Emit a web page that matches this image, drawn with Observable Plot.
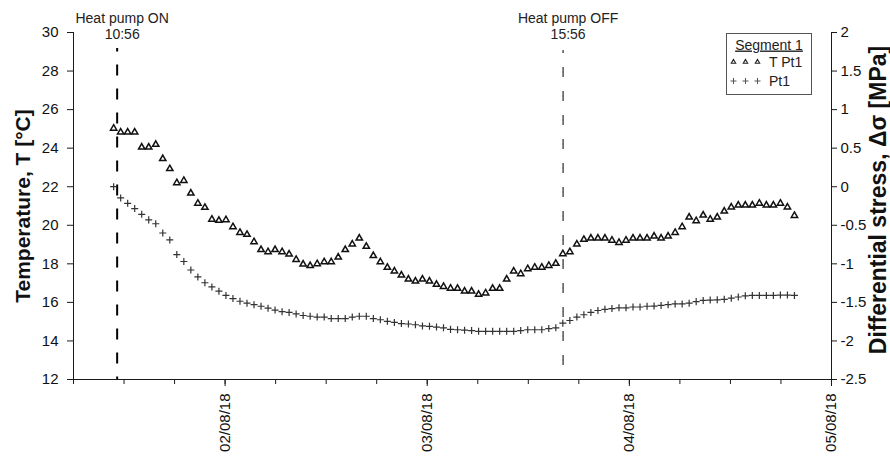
<!DOCTYPE html>
<html>
<head>
<meta charset="utf-8">
<script src="https://cdn.jsdelivr.net/npm/d3@7"></script>
<script src="https://cdn.jsdelivr.net/npm/@observablehq/plot@0.6"></script>
<style>
  body { margin: 0; background: #fff; font-family: "Liberation Sans", Arial, sans-serif; }
  #wrap { position: relative; width: 890px; height: 460px; }
  #legend { position: absolute; left: 726px; top: 33px; }
</style>
</head>
<body>
<div id="wrap"></div>
<script>
// ---- data ----
const sampleStart = "2018-08-01T10:46";
const sampleStepMinutes = 50;

// Temperature T Pt1 [°C] (triangles, left axis)
const tempPt1 = [
  25.03, 24.83, 24.83, 24.83, 24.05, 24.05, 24.19, 23.45, 22.93, 22.20,
  22.32, 21.66, 21.14, 20.92, 20.31, 20.25, 20.28, 19.92, 19.62, 19.52,
  19.14, 18.73, 18.62, 18.73, 18.62, 18.50, 18.22, 17.98, 17.90, 18.00,
  18.10, 18.10, 18.34, 18.73, 19.02, 19.33, 18.90, 18.42, 18.10, 17.81,
  17.62, 17.41, 17.20, 17.10, 17.20, 17.10, 16.93, 16.82, 16.73, 16.72,
  16.58, 16.58, 16.41, 16.48, 16.72, 16.72, 17.20, 17.62, 17.48, 17.74,
  17.82, 17.82, 17.91, 18.02, 18.52, 18.62, 19.02, 19.26, 19.33, 19.33,
  19.33, 19.22, 19.10, 19.22, 19.33, 19.33, 19.33, 19.43, 19.33, 19.43,
  19.62, 19.92, 20.42, 20.23, 20.52, 20.31, 20.42, 20.73, 20.94, 21.04,
  21.04, 21.04, 21.14, 21.04, 21.04, 21.14, 20.94, 20.50
];

// Differential stress Pt1 [MPa] (pluses, right axis)
const stressPt1 = [
  0.000, -0.145, -0.215, -0.283, -0.358, -0.430, -0.480, -0.600, -0.690, -0.880,
  -0.970, -1.080, -1.170, -1.245, -1.300, -1.355, -1.410, -1.450, -1.485, -1.510,
  -1.530, -1.550, -1.575, -1.600, -1.620, -1.630, -1.650, -1.670, -1.680, -1.690,
  -1.690, -1.710, -1.710, -1.710, -1.690, -1.680, -1.680, -1.710, -1.725, -1.745,
  -1.760, -1.775, -1.780, -1.790, -1.805, -1.810, -1.820, -1.830, -1.850, -1.855,
  -1.860, -1.865, -1.875, -1.875, -1.875, -1.875, -1.875, -1.875, -1.865, -1.855,
  -1.855, -1.855, -1.840, -1.830, -1.770, -1.735, -1.690, -1.660, -1.630, -1.605,
  -1.590, -1.580, -1.570, -1.570, -1.560, -1.560, -1.550, -1.548, -1.540, -1.530,
  -1.520, -1.520, -1.510, -1.490, -1.475, -1.470, -1.467, -1.460, -1.445, -1.430,
  -1.415, -1.410, -1.410, -1.410, -1.410, -1.405, -1.405, -1.410
];

const xDomainDates = ["2018-08-01T06:00", "2018-08-05T00:00"];
const dayTickDates = ["2018-08-02T00:00", "2018-08-03T00:00", "2018-08-04T00:00", "2018-08-05T00:00"];
const tempTicks = [12, 14, 16, 18, 20, 22, 24, 26, 28, 30];
const stressTicks = [-2.5, -2, -1.5, -1, -0.5, 0, 0.5, 1, 1.5, 2];
const eventTimes = ["2018-08-01T11:11", "2018-08-03T16:08"];
const eventLabels = ["Heat pump ON", "Heat pump OFF"];
const eventClocks = ["10:56", "15:56"];
const leftTitle = "Temperature, T [°C]";
const rightTitle = "Differential stress, Δσ [MPa]";
const legendTitle = "Segment 1";
const seriesNames = ["T Pt1", "Pt1"];

// ---- build ----
const t0 = new Date(sampleStart);
const rows = tempPt1.map((t, i) => ({
  time: new Date(t0.getTime() + i * sampleStepMinutes * 60000),
  t,
  s: stressPt1[i]
}));
const xDomain = xDomainDates.map(d => new Date(d));
const dayTicks = dayTickDates.map(d => new Date(d));
const sixHourTicks = d3.timeHour.every(6).range(xDomain[0], new Date(xDomain[1].getTime() + 1));
// stress (MPa) -> temperature-axis units: both axes share one y scale
const sToT = s => 22 + 4 * s;
const events = eventTimes.map((d, i) => ({time: new Date(d), label: eventLabels[i], clock: eventClocks[i]}));
const fmtDay = d3.timeFormat("%d/%m/%y");
const axisColor = "#1a1a1a";

const chart = Plot.plot({
  width: 890,
  height: 460,
  marginLeft: 73,
  marginRight: 59,
  marginTop: 32,
  marginBottom: 81,
  style: {fontFamily: "'Liberation Sans', Arial, sans-serif", fontSize: "15px", color: "#111", background: "#fff", overflow: "visible"},
  x: {type: "time", domain: xDomain},
  y: {domain: [12, 30]},
  marks: [
    Plot.axisY(tempTicks, {anchor: "left", tickSize: 6, tickPadding: 9, label: null, stroke: axisColor, fontSize: 15}),
    Plot.axisY(stressTicks.map(sToT), {anchor: "right", tickSize: 5, tickPadding: 4, label: null, stroke: axisColor, fontSize: 15,
      tickFormat: t => String((t - 22) / 4)}),
    Plot.axisX(sixHourTicks, {tickSize: 5, tickFormat: () => "", label: null, stroke: axisColor}),
    Plot.axisX(dayTicks, {tickSize: 7, tickPadding: 7, tickRotate: -90, tickFormat: fmtDay, label: null, stroke: axisColor, fontSize: 15}),
    Plot.ruleY([12], {stroke: axisColor}),
    Plot.ruleX([xDomain[0]], {stroke: axisColor}),
    Plot.ruleX([xDomain[1]], {stroke: axisColor}),
    Plot.ruleX(events.slice(0, 1), {x: "time", stroke: "#000", strokeWidth: 2, strokeDasharray: "11,13", strokeDashoffset: 7.5, insetTop: 16}),
    Plot.ruleX(events.slice(1), {x: "time", stroke: "#555", strokeWidth: 1.5, strokeDasharray: "10,14", strokeDashoffset: 7, insetTop: 18}),
    Plot.dot(rows, {x: "time", y: "t", symbol: "triangle", r: 2.35, stroke: "#111", fill: "#fff", strokeWidth: 1.5}),
    Plot.dot(rows, {x: "time", y: d => sToT(d.s), symbol: "plus", r: 2.4, stroke: "#333", strokeWidth: 1.2}),
    Plot.text(events, {x: "time", frameAnchor: "top", dx: 5, dy: 6, text: d => d.label + "\n" + d.clock,
      lineAnchor: "bottom", lineHeight: 1.1, fontSize: 14, fill: "#222"}),
    Plot.text([leftTitle], {frameAnchor: "left", textAnchor: "middle", dx: -50, rotate: -90, fontSize: 21, fontWeight: "bold", fill: "#111"}),
    Plot.text([rightTitle], {frameAnchor: "right", textAnchor: "middle", dx: 47, dy: -6, rotate: -90, fontSize: 23, fontWeight: "bold", fill: "#111"})
  ]
});
document.getElementById("wrap").appendChild(chart);

// legend (inside plot area, top right)
const lg = d3.select("#wrap").append("svg").attr("id", "legend")
  .attr("width", 87).attr("height", 63)
  .style("font-family", "'Liberation Sans', Arial, sans-serif").style("font-size", "14px");
lg.append("rect").attr("x", 0.5).attr("y", 0.5).attr("width", 85).attr("height", 61)
  .attr("fill", "#fff").attr("stroke", "#555");
lg.append("text").attr("x", 43).attr("y", 16.5).attr("text-anchor", "middle")
  .attr("fill", "#222").style("text-decoration", "underline").text(legendTitle);
const triPath = d3.symbol(d3.symbolTriangle2, 14)();
const plusPath = d3.symbol(d3.symbolPlus, 13.9)();
[7.5, 19.5, 31.5].forEach(x => {
  lg.append("path").attr("d", triPath).attr("transform", `translate(${x},29)`)
    .attr("fill", "#fff").attr("stroke", "#222").attr("stroke-width", 1.1);
  lg.append("path").attr("d", plusPath).attr("transform", `translate(${x},48)`)
    .attr("fill", "none").attr("stroke", "#555").attr("stroke-width", 1);
});
lg.append("text").attr("x", 43).attr("y", 33.5).attr("fill", "#222").text(seriesNames[0]);
lg.append("text").attr("x", 43).attr("y", 53).attr("fill", "#222").text(seriesNames[1]);
</script>
</body>
</html>
